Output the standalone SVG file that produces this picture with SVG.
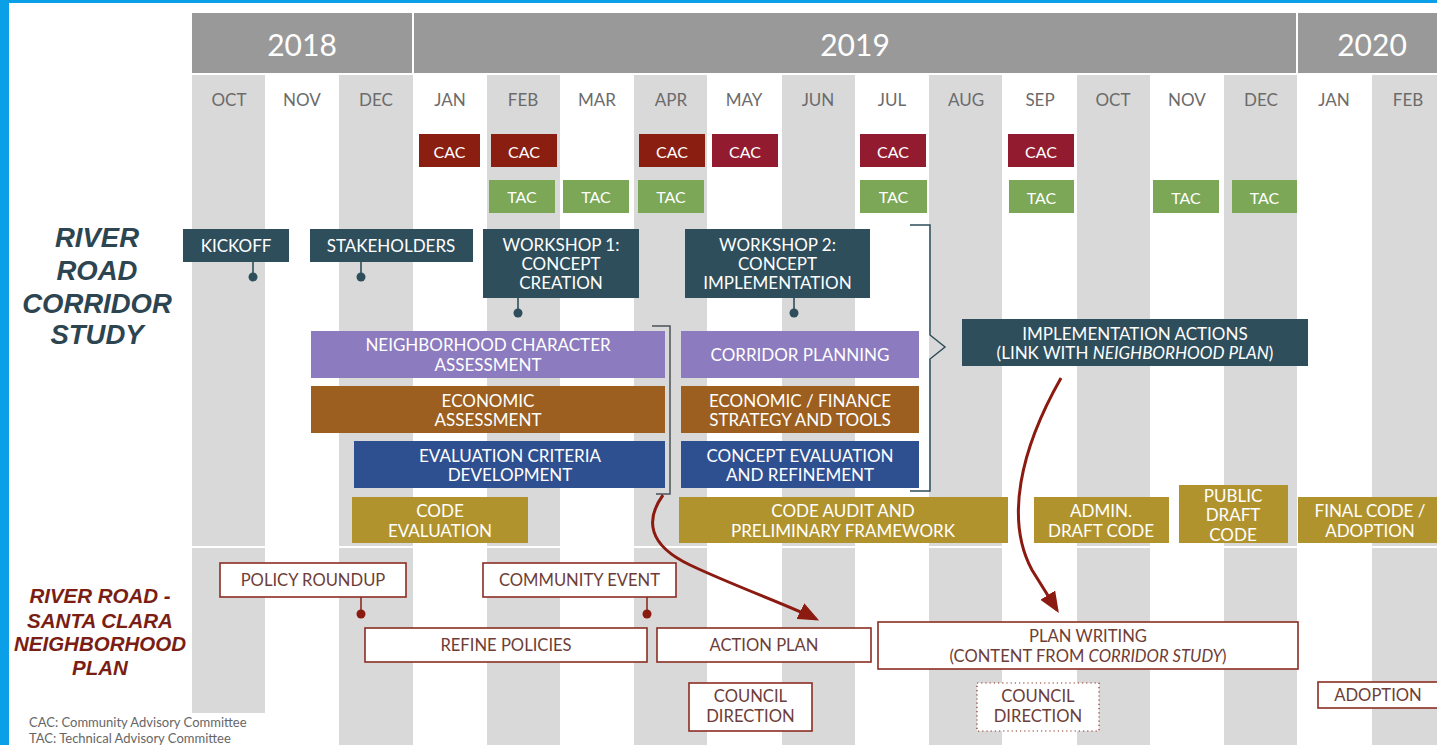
<svg xmlns="http://www.w3.org/2000/svg" width="1437" height="745" viewBox="0 0 1437 745">
<defs>
<style>
text{font-family:Lato,"Open Sans","Liberation Sans",sans-serif;text-anchor:middle;dominant-baseline:central}
.col{fill:#d9d9d9}
.yr{fill:#999999}
.yt{fill:#ffffff;font-size:30px}
.mt{fill:#6b6b6b;font-size:17px}
.w{fill:#ffffff;font-size:17px}
.s{fill:#ffffff;font-size:16px}
.cac1{fill:#8a1e10}
.cac2{fill:#921b30}
.tac{fill:#7ba756}
.dk{fill:#2e4e5c}
.pu{fill:#8c7bbe}
.br{fill:#9c5f1f}
.bl{fill:#2f5090}
.go{fill:#b1932e}
.nb{fill:#ffffff;stroke:#8b2e22;stroke-width:1.6}
.nt{fill:#6e3d37;font-size:16.6px}
.stem{stroke:#2e4e5c;stroke-width:1.6;fill:none}
.stemr{stroke:#8b2e22;stroke-width:1.6;fill:none}
.title1{fill:#2d4550;font-family:"Liberation Sans",Arial,sans-serif;font-weight:bold;font-style:italic;font-size:27.5px}
.title2{fill:#7a1e14;font-family:"Liberation Sans",Arial,sans-serif;font-weight:bold;font-style:italic;font-size:20.5px}
.leg{fill:#666666;font-size:13px;text-anchor:start}
.arr{stroke:#8b1a10;stroke-width:3;fill:none}
</style>
<marker id="ah" viewBox="0 0 12 10" refX="10" refY="5" markerWidth="7" markerHeight="6" markerUnits="strokeWidth" orient="auto">
<path d="M0,0 L12,5 L0,10 Z" fill="#8b1a10"/>
</marker>
</defs>
<rect x="0" y="0" width="1437" height="745" fill="#ffffff"/>
<rect x="0" y="0" width="1437" height="3" fill="#0a9fe6"/>
<rect x="0" y="0" width="9" height="745" fill="#0a9fe6"/>

<g id="grid">
<rect class="col" x="192" y="75" width="73" height="638"/>
<rect class="col" x="339" y="75" width="74" height="670"/>
<rect class="col" x="487" y="75" width="73" height="670"/>
<rect class="col" x="634" y="75" width="73" height="670"/>
<rect class="col" x="782" y="75" width="73" height="670"/>
<rect class="col" x="929" y="75" width="73" height="670"/>
<rect class="col" x="1077" y="75" width="73" height="670"/>
<rect class="col" x="1224" y="75" width="73" height="670"/>
<rect class="col" x="1372" y="75" width="65" height="670"/>
<rect x="192" y="546" width="1245" height="2" fill="#ffffff"/>
</g>

<g id="years">
<rect class="yr" x="192" y="13" width="220" height="60"/>
<rect class="yr" x="414" y="13" width="882" height="60"/>
<rect class="yr" x="1298" y="13" width="139" height="60"/>
<text class="yt" x="302" y="44">2018</text>
<text class="yt" x="855" y="44">2019</text>
<text class="yt" x="1372" y="44">2020</text>
</g>

<g id="months">
<text class="mt" x="229" y="99">OCT</text>
<text class="mt" x="302" y="99">NOV</text>
<text class="mt" x="376" y="99">DEC</text>
<text class="mt" x="450" y="99">JAN</text>
<text class="mt" x="523" y="99">FEB</text>
<text class="mt" x="597" y="99">MAR</text>
<text class="mt" x="671" y="99">APR</text>
<text class="mt" x="744" y="99">MAY</text>
<text class="mt" x="818" y="99">JUN</text>
<text class="mt" x="892" y="99">JUL</text>
<text class="mt" x="966" y="99">AUG</text>
<text class="mt" x="1040" y="99">SEP</text>
<text class="mt" x="1113" y="99">OCT</text>
<text class="mt" x="1187" y="99">NOV</text>
<text class="mt" x="1261" y="99">DEC</text>
<text class="mt" x="1334" y="99">JAN</text>
<text class="mt" x="1408" y="99">FEB</text>
</g>

<g id="cac">
<rect class="cac1" x="419" y="134" width="61" height="33"/><text class="s" x="449.5" y="151">CAC</text>
<rect class="cac1" x="491" y="134" width="66" height="33"/><text class="s" x="524" y="151">CAC</text>
<rect class="cac1" x="639" y="134" width="66" height="33"/><text class="s" x="672" y="151">CAC</text>
<rect class="cac2" x="712" y="134" width="66" height="33"/><text class="s" x="745" y="151">CAC</text>
<rect class="cac2" x="860" y="134" width="66" height="33"/><text class="s" x="893" y="151">CAC</text>
<rect class="cac2" x="1008" y="134" width="66" height="33"/><text class="s" x="1041" y="151">CAC</text>
</g>

<g id="tac">
<rect class="tac" x="489" y="180" width="66" height="33"/><text class="s" x="522" y="196">TAC</text>
<rect class="tac" x="563" y="180" width="66" height="33"/><text class="s" x="596" y="196">TAC</text>
<rect class="tac" x="638" y="180" width="66" height="33"/><text class="s" x="671" y="196">TAC</text>
<rect class="tac" x="860" y="180" width="67" height="33"/><text class="s" x="893.5" y="196">TAC</text>
<rect class="tac" x="1009" y="180" width="65" height="33"/><text class="s" x="1041.5" y="197">TAC</text>
<rect class="tac" x="1153" y="180" width="66" height="33"/><text class="s" x="1186" y="197">TAC</text>
<rect class="tac" x="1232" y="180" width="65" height="33"/><text class="s" x="1264.5" y="197">TAC</text>
</g>

<g id="titles">
<text class="title1" x="97" y="237">RIVER</text>
<text class="title1" x="97" y="270">ROAD</text>
<text class="title1" x="97" y="303">CORRIDOR</text>
<text class="title1" x="97" y="334">STUDY</text>
<text class="title2" x="100" y="595">RIVER ROAD -</text>
<text class="title2" x="100" y="620">SANTA CLARA</text>
<text class="title2" x="100" y="643">NEIGHBORHOOD</text>
<text class="title2" x="100" y="667">PLAN</text>
</g>

<g id="kickoff">
<rect class="dk" x="183" y="229" width="106" height="33"/>
<text class="w" x="236" y="245">KICKOFF</text>
<path class="stem" d="M253,262 V277"/><circle cx="253" cy="277" r="4.5" fill="#2e4e5c"/>
</g>
<g id="stakeholders">
<rect class="dk" x="310" y="229" width="163" height="33"/>
<text class="w" x="391" y="245">STAKEHOLDERS</text>
<path class="stem" d="M361,262 V277"/><circle cx="361" cy="277" r="4.5" fill="#2e4e5c"/>
</g>
<g id="workshop1">
<rect class="dk" x="483" y="229" width="156" height="69"/>
<text class="w" x="561" y="244">WORKSHOP 1:</text>
<text class="w" x="561" y="263">CONCEPT</text>
<text class="w" x="561" y="282">CREATION</text>
<path class="stem" d="M518,298 V313"/><circle cx="518" cy="313" r="4.5" fill="#2e4e5c"/>
</g>
<g id="workshop2">
<rect class="dk" x="685" y="229" width="185" height="69"/>
<text class="w" x="777.5" y="244">WORKSHOP 2:</text>
<text class="w" x="777.5" y="263">CONCEPT</text>
<text class="w" x="777.5" y="282">IMPLEMENTATION</text>
<path class="stem" d="M794,298 V313"/><circle cx="794" cy="313" r="4.5" fill="#2e4e5c"/>
</g>

<g id="nca">
<rect class="pu" x="311" y="331" width="354" height="47"/>
<text class="w" x="488" y="344">NEIGHBORHOOD CHARACTER</text>
<text class="w" x="488" y="364">ASSESSMENT</text>
</g>
<g id="econ">
<rect class="br" x="311" y="386" width="354" height="47"/>
<text class="w" x="488" y="400">ECONOMIC</text>
<text class="w" x="488" y="419">ASSESSMENT</text>
</g>
<g id="evalcrit">
<rect class="bl" x="354" y="441" width="311" height="47"/>
<text class="w" x="510" y="455">EVALUATION CRITERIA</text>
<text class="w" x="510" y="474">DEVELOPMENT</text>
</g>
<g id="codeeval">
<rect class="go" x="352" y="497" width="176" height="46"/>
<text class="w" x="440" y="510">CODE</text>
<text class="w" x="440" y="530">EVALUATION</text>
</g>
<g id="corridor">
<rect class="pu" x="681" y="331" width="238" height="47"/>
<text class="w" x="800" y="354">CORRIDOR PLANNING</text>
</g>
<g id="finance">
<rect class="br" x="681" y="386" width="238" height="47"/>
<text class="w" x="800" y="400">ECONOMIC / FINANCE</text>
<text class="w" x="800" y="419">STRATEGY AND TOOLS</text>
</g>
<g id="concepteval">
<rect class="bl" x="681" y="441" width="238" height="47"/>
<text class="w" x="800" y="455">CONCEPT EVALUATION</text>
<text class="w" x="800" y="474">AND REFINEMENT</text>
</g>
<g id="codeaudit">
<rect class="go" x="679" y="497" width="329" height="46"/>
<text class="w" x="843" y="510">CODE AUDIT AND</text>
<text class="w" x="843" y="530">PRELIMINARY FRAMEWORK</text>
</g>
<g id="admindraft">
<rect class="go" x="1034" y="497" width="135" height="46"/>
<text class="w" x="1101" y="510">ADMIN.</text>
<text class="w" x="1101" y="530">DRAFT CODE</text>
</g>
<g id="publicdraft">
<rect class="go" x="1179" y="485" width="109" height="58"/>
<text class="w" x="1233" y="495">PUBLIC</text>
<text class="w" x="1233" y="514">DRAFT</text>
<text class="w" x="1233" y="534">CODE</text>
</g>
<g id="finalcode">
<rect class="go" x="1298" y="497" width="144" height="46"/>
<text class="w" x="1370" y="510">FINAL CODE /</text>
<text class="w" x="1370" y="530">ADOPTION</text>
</g>
<g id="implementation">
<rect class="dk" x="962" y="319" width="346" height="47"/>
<text class="w" x="1135" y="333">IMPLEMENTATION ACTIONS</text>
<text class="w" x="1135" y="352">(LINK WITH <tspan font-style="italic">NEIGHBORHOOD PLAN</tspan>)</text>
</g>

<g id="policyroundup">
<rect class="nb" x="220" y="563" width="186" height="34"/>
<text class="nt" x="313" y="580">POLICY ROUNDUP</text>
<path class="stemr" d="M361,597 V614"/><circle cx="361" cy="614" r="4.5" fill="#8b1a10"/>
</g>
<g id="communityevent">
<rect class="nb" x="483" y="563" width="193" height="34"/>
<text class="nt" x="579.5" y="580">COMMUNITY EVENT</text>
<path class="stemr" d="M647,597 V614"/><circle cx="647" cy="614" r="4.5" fill="#8b1a10"/>
</g>
<g id="refinepolicies">
<rect class="nb" x="365" y="628" width="282" height="34"/>
<text class="nt" x="506" y="645">REFINE POLICIES</text>
</g>
<g id="actionplan">
<rect class="nb" x="657" y="628" width="214" height="34"/>
<text class="nt" x="764" y="645">ACTION PLAN</text>
</g>
<g id="planwriting">
<rect class="nb" x="878" y="622" width="420" height="47"/>
<text class="nt" x="1088" y="636">PLAN WRITING</text>
<text class="nt" x="1088" y="656">(CONTENT FROM <tspan font-style="italic">CORRIDOR STUDY</tspan>)</text>
</g>
<g id="council1">
<rect class="nb" x="689" y="683" width="123" height="48"/>
<text class="nt" x="750.5" y="696">COUNCIL</text>
<text class="nt" x="750.5" y="716">DIRECTION</text>
</g>
<g id="council2">
<rect x="977" y="683" width="122" height="48" fill="#ffffff" stroke="#8b2e22" stroke-width="1.2" stroke-dasharray="1.2 3"/>
<text class="nt" x="1038" y="696">COUNCIL</text>
<text class="nt" x="1038" y="716">DIRECTION</text>
</g>
<g id="adoption">
<rect class="nb" x="1318" y="682" width="124" height="26"/>
<text class="nt" x="1378" y="695">ADOPTION</text>
</g>

<g id="connectors">
<path d="M652,326 H670 V494 H656" fill="none" stroke="#4a5257" stroke-width="1.5"/>
<path d="M910,225 H930 V335 L945,347 L930,359 V491 H910" fill="none" stroke="#2e4e5c" stroke-width="1.5"/>
<path class="arr" marker-end="url(#ah)" d="M663,495 C645,520 648,545 690,565 S790,606 816,619"/>
<path class="arr" marker-end="url(#ah)" d="M1061,378 C1020,450 1005,520 1032,570 L1057,610"/>
</g>

<g id="legend">
<text class="leg" x="29" y="722">CAC: Community Advisory Committee</text>
<text class="leg" x="29" y="738">TAC: Technical Advisory Committee</text>
</g>
</svg>
